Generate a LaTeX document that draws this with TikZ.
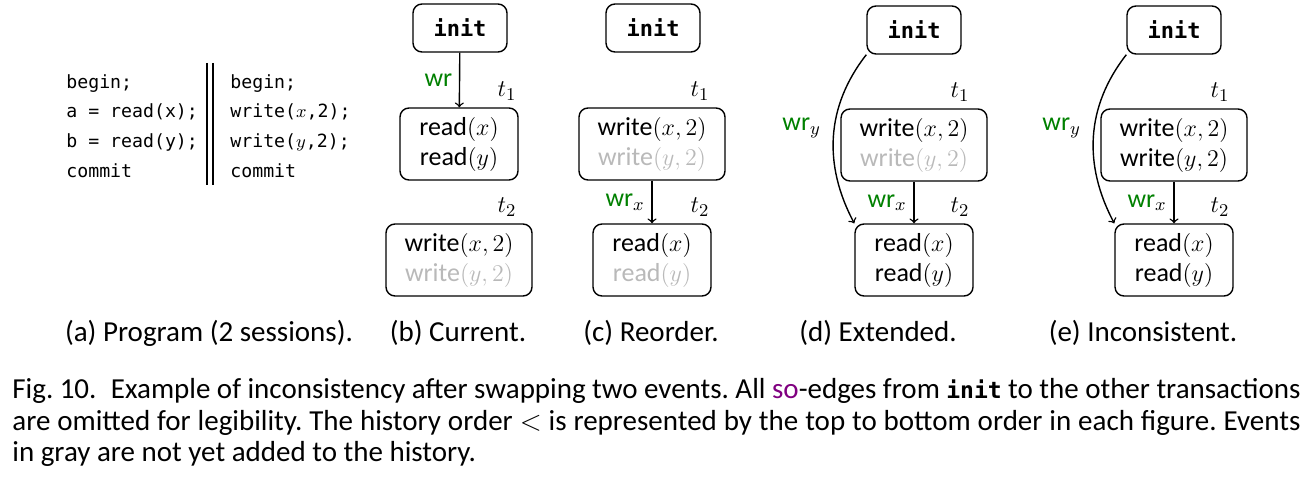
\documentclass[tikz,border=0pt]{standalone}
\usepackage{fontspec}
\setmainfont{Carlito}
\setmonofont{DejaVu Sans Mono}
\definecolor{wrgreen}{RGB}{0,128,0}
\definecolor{sopurple}{RGB}{128,0,128}
\definecolor{ghostgray}{RGB}{185,185,185}
\newcommand{\ghost}[1]{\textcolor{ghostgray}{#1}}
\newcommand{\wrlab}[1]{\textcolor{wrgreen}{wr}$_{#1}$}
\newcommand{\initkw}{{\fontsize{11.5}{13}\selectfont\ttfamily\bfseries init}}
\frenchspacing

\begin{document}
\begin{tikzpicture}[x=0.5pt,y=-0.5pt,
    font=\fontsize{13}{15}\selectfont,
    txn/.style={draw, rounded corners=4.5pt, line width=0.7pt, align=center,
      minimum height=36pt, inner sep=2pt},
    initbox/.style={txn, minimum width=47pt, minimum height=24pt,
      font=\fontsize{11}{13}\selectfont\ttfamily\bfseries},
    rdbox/.style={txn, minimum width=59pt},
    wtbox/.style={txn, minimum width=73pt},
    code/.style={anchor=west, align=left, inner sep=0pt,
      font=\fontsize{9.1}{14.8}\selectfont\ttfamily},
    sub/.style={font=\fontsize{14.5}{17}\selectfont},
    wr/.style={->, line width=0.7pt}]
  \useasboundingbox (0,0) rectangle (1310,476);

  % (a) the program, two sessions
  \node[code] (sesA) at (66,126) {begin;\\a = read(x);\\b = read(y);\\commit};
  \node[code] (sesB) at (230,126) {begin;\\write($x$,2);\\write($y$,2);\\commit};
  \draw[line width=0.6pt] (207,63) -- (207,185) (213,63) -- (213,185);
  \node[sub] (capA) at (209,333) {(a) Program (2 sessions).};

  % (b) current
  \node[initbox] (iniB) at (460,28) {init};
  \node[rdbox] (tB1) at (459,144) {read$(x)$\\read$(y)$};
  \node[wtbox] (tB2) at (459,260) {write$(x,2)$\\\ghost{write$(y,2)$}};
  \node (lB1) at (507,91) {$t_1$};
  \node (lB2) at (507,207) {$t_2$};
  \draw[wr] (iniB) -- (tB1) node[midway,left] (wrB) {\textcolor{wrgreen}{wr}};
  \node[sub] (capB) at (458,333) {(b) Current.};

  % (c) reorder
  \node[initbox] (iniC) at (653,28) {init};
  \node[wtbox] (tC1) at (652,144) {write$(x,2)$\\\ghost{write$(y,2)$}};
  \node[rdbox] (tC2) at (652,260) {read$(x)$\\\ghost{read$(y)$}};
  \node (lC1) at (700,91) {$t_1$};
  \node (lC2) at (700,207) {$t_2$};
  \draw[wr] (tC1) -- (tC2) node[midway,left] (wrC) {\wrlab{x}};
  \node[sub] (capC) at (651,333) {(c) Reorder.};

  % (d) extended
  \node[initbox] (iniD) at (914,30) {init};
  \node[wtbox] (tD1) at (914,145) {write$(x,2)$\\\ghost{write$(y,2)$}};
  \node[rdbox] (tD2) at (914,260) {read$(x)$\\read$(y)$};
  \node (lD1) at (960,92) {$t_1$};
  \node (lD2) at (960,207) {$t_2$};
  \draw[wr] (tD1) -- (tD2) node[midway,left] (wrDx) {\wrlab{x}};
  \draw[wr] (iniD.south west) to[out=232,in=118]
    node[pos=0.45,left=3pt] (wrDy) {\wrlab{y}} (tD2.north west);
  \node[sub] (capD) at (878,333) {(d) Extended.};

  % (e) inconsistent
  \node[initbox] (iniE) at (1174,30) {init};
  \node[wtbox] (tE1) at (1174,145) {write$(x,2)$\\write$(y,2)$};
  \node[rdbox] (tE2) at (1174,260) {read$(x)$\\read$(y)$};
  \node (lE1) at (1220,92) {$t_1$};
  \node (lE2) at (1220,207) {$t_2$};
  \draw[wr] (tE1) -- (tE2) node[midway,left] (wrEx) {\wrlab{x}};
  \draw[wr] (iniE.south west) to[out=232,in=118]
    node[pos=0.45,left=3pt] (wrEy) {\wrlab{y}} (tE2.north west);
  \node[sub] (capE) at (1143,333) {(e) Inconsistent.};

  % figure caption
  \node[anchor=north west, text width=644pt, align=justify, inner sep=0pt,
    font=\fontsize{14.5}{15.75}\selectfont] (figcap) at (12,378)
    {Fig.~10.\enskip Example of inconsistency after swapping two events. All
     \textcolor{sopurple}{so}-edges from \initkw{} to the other transactions\linebreak
     are omitted for legibility. The history order $<$ is represented by the top
     to bottom order in each figure. Events\linebreak
     in gray are not yet added to the history.};
\end{tikzpicture}
\end{document}
